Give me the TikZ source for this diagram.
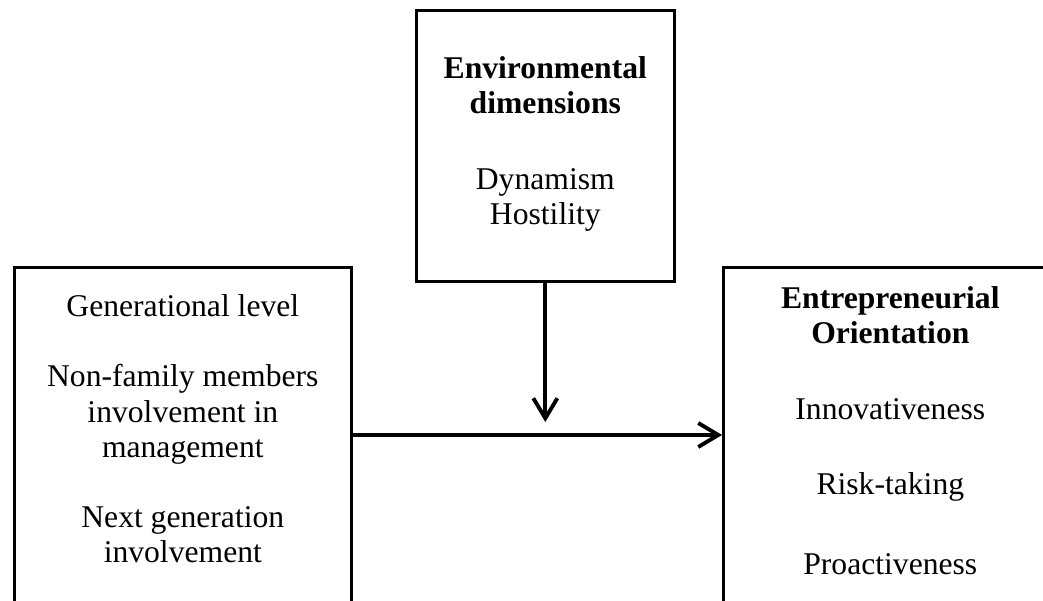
\documentclass[tikz,border=0pt]{standalone}
\usepackage{fontspec}
\setmainfont{Liberation Serif}
\usepackage{tikz}
\usetikzlibrary{arrows.meta,positioning,calc}
\newcommand{\boxfont}{\fontsize{18}{20}\selectfont}

\begin{document}
\begin{tikzpicture}[
    card/.style={draw, line width=1.5pt, inner sep=0pt, anchor=north west, font=\boxfont},
    link/.style={-{Straight Barb[length=4mm, width=4.8mm]}, line width=2.2pt},
  ]
    \useasboundingbox (0,0) rectangle (20.86,12);
    \clip (0,0) rectangle (20.86,12);
    % family firm characteristics
    \node[card] (gen) at (0.26,6.68) {%
      \parbox[t][7.2cm][t]{6.74cm}{\centering\vspace*{0.55cm}%
        Generational level\\[0.7cm]
        Non-family members\\ involvement in\\ management\\[0.7cm]
        Next generation\\ involvement}};
    % environment
    \node[card] (env) at (8.3,11.82) {%
      \parbox[t][5.42cm][t]{5.16cm}{\centering\vspace*{0.93cm}%
        \textbf{Environmental}\\ \textbf{dimensions}\\[0.8cm]
        Dynamism\\ Hostility}};
    % entrepreneurial orientation
    \node[card] (eo) at (14.44,6.68) {%
      \parbox[t][7.2cm][t]{6.68cm}{\centering\vspace*{0.39cm}%
        \textbf{Entrepreneurial}\\ \textbf{Orientation}\\[0.8cm]
        Innovativeness\\[0.8cm]
        Risk-taking\\[0.9cm]
        Proactiveness}};
    % arrows
    \coordinate (join) at (env.south |- 0,3.3);
    \draw[link] (gen.east |- join) -- (eo.west |- join);
    \draw[link] (env.south) -- ([yshift=0.26cm]join);
  \end{tikzpicture}
\end{document}
